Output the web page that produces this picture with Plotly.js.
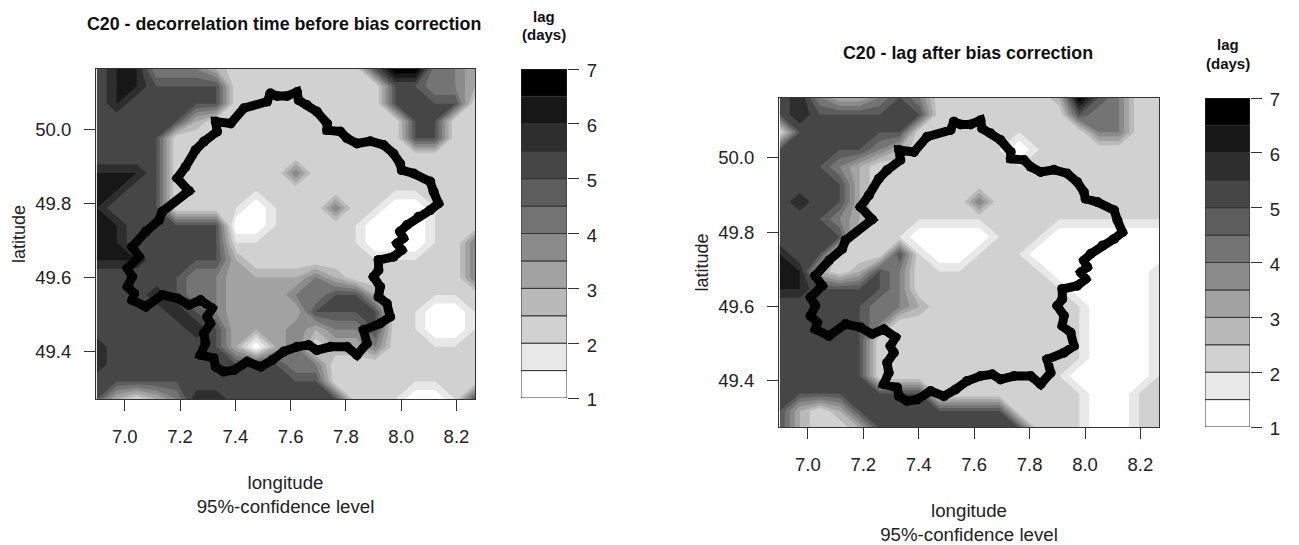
<!DOCTYPE html>
<html><head><meta charset="utf-8">
<script src="https://cdn.plot.ly/plotly-3.0.0.min.js"></script>
<style>html,body{margin:0;padding:0;background:#fff}#c{width:1299px;height:545px}</style>
</head><body><div id="c"></div>
<script>
const lons=[6.899,6.971,7.043,7.115,7.187,7.259,7.331,7.403,7.475,7.547,7.619,7.691,7.763,7.835,7.907,7.979,8.051,8.123,8.195,8.267];
const lats=[50.163,50.116,50.069,50.022,49.976,49.929,49.882,49.835,49.788,49.741,49.694,49.647,49.600,49.553,49.507,49.460,49.413,49.366,49.319,49.272];
const lagBefore=[
[5,6,6,4,4,4,3,2,2,2,2,2,2,2,5,7,7,4,4,3],
[5,6,6,5,5,5,5,2,2,2,2,2,2,2,2,5,5,4,4,3],
[5,6,5,5,5,5,5,2,2,2,2,2,2,2,2,5,5,5,5,2],
[5,5,5,5,5,3,2,2,2,2,2,2,2,2,2,2,5,5,2,2],
[5,5,5,5,2,2,2,2,2,2,2,2,2,2,2,2,5,5,2,2],
[5,5,5,5,2,2,2,2,2,2,2,2,2,2,2,2,2,2,2,2],
[6,6,6,5,2,2,2,2,2,2,4,2,2,2,2,2,2,2,2,2],
[6,6,5,5,2,2,2,2,2,2,2,2,2,2,2,2,2,2,2,2],
[6,5,5,5,2,2,2,2,1,2,2,2,4,2,2,1,1,2,2,2],
[6,6,5,5,5,5,5,1,1,2,2,2,2,2,1,1,1,2,2,2],
[6,6,5,5,5,5,5,2,2,2,2,2,2,2,1,1,1,2,2,4],
[6,6,6,5,5,5,5,3,2,2,2,2,2,2,2,2,2,2,2,4],
[5,5,5,5,5,4,4,3,3,3,3,4,3,2,2,2,2,2,2,4],
[5,5,5,6,5,4,4,3,3,3,4,4,5,5,3,2,2,2,2,2],
[5,5,5,5,6,5,4,3,3,3,3,5,5,5,5,2,2,1,1,2],
[5,5,5,5,5,6,5,3,3,3,4,3,4,4,5,2,2,1,1,2],
[6,5,5,5,5,5,5,3,1,3,4,2,3,3,4,2,2,2,2,2],
[6,5,5,5,5,5,5,5,5,5,4,4,2,2,2,2,2,2,2,2],
[5,5,5,5,5,5,5,5,5,5,5,5,2,2,2,2,2,2,2,2],
[5,3,2,3,4,6,6,5,5,5,5,5,5,2,2,2,1,1,2,5]];
const lagAfter=[
[5,6,4,3,3,4,5,4,2,2,2,2,2,2,3,7,5,4,2,2],
[5,6,5,5,5,5,5,5,2,2,2,2,2,2,2,5,4,4,2,2],
[2,5,5,5,5,5,5,2,2,2,2,2,2,2,2,2,4,4,2,2],
[5,5,5,5,5,4,3,2,2,2,2,2,1,2,2,2,2,2,2,2],
[5,5,5,4,3,2,2,2,2,2,2,2,2,2,2,2,2,2,2,2],
[5,5,5,5,3,2,2,2,2,2,2,2,2,2,2,2,2,2,2,2],
[5,6,5,5,3,2,2,2,2,2,4,2,2,2,2,2,2,2,2,2],
[5,5,5,4,3,2,2,2,2,2,2,2,2,2,2,2,2,2,2,2],
[5,5,5,5,2,2,2,1,1,1,1,2,2,2,1,1,1,1,1,1],
[6,5,5,2,2,2,5,2,1,1,2,2,2,1,1,1,1,1,1,1],
[6,6,3,2,3,5,4,2,2,2,2,2,2,2,1,1,1,1,1,2],
[6,6,5,5,5,5,4,2,2,2,2,2,2,2,2,1,1,1,1,2],
[5,5,5,5,5,4,4,3,2,2,2,2,2,2,2,2,1,1,1,2],
[5,5,5,5,5,4,2,2,2,2,2,2,2,2,2,2,1,1,1,2],
[5,5,5,5,5,2,2,2,2,2,2,2,2,2,2,2,1,1,1,2],
[5,5,5,5,5,2,2,2,2,2,2,2,2,2,2,2,1,1,1,2],
[5,5,5,5,5,2,2,2,2,2,2,2,2,2,2,1,1,1,1,2],
[5,5,5,5,5,5,5,5,2,2,2,2,2,2,2,2,1,1,2,2],
[5,3,2,3,5,5,5,5,5,5,5,5,2,2,2,2,1,1,2,2],
[5,3,2,2,3,5,5,5,5,5,5,5,5,2,2,2,1,1,2,2]];
const basinLon=[7.527,7.551,7.587,7.623,7.629,7.659,7.695,7.732,7.732,7.780,7.804,7.840,7.888,7.936,7.972,7.996,8.002,8.045,8.105,8.117,8.135,8.105,8.063,8.021,7.996,8.008,7.985,8.002,7.972,7.918,7.918,7.900,7.924,7.918,7.948,7.960,7.924,7.864,7.876,7.840,7.804,7.744,7.695,7.665,7.623,7.575,7.533,7.491,7.443,7.395,7.358,7.329,7.322,7.274,7.292,7.286,7.310,7.298,7.316,7.274,7.232,7.190,7.136,7.076,7.027,7.034,7.010,7.027,7.010,7.052,7.027,7.076,7.124,7.136,7.232,7.190,7.220,7.256,7.286,7.334,7.329,7.383,7.431,7.515,7.527];
const basinLat=[50.097,50.090,50.090,50.101,50.079,50.066,50.048,50.016,49.998,49.994,49.976,49.962,49.968,49.958,49.935,49.908,49.890,49.881,49.859,49.832,49.800,49.782,49.764,49.742,49.724,49.706,49.692,49.674,49.656,49.647,49.620,49.602,49.575,49.548,49.530,49.494,49.476,49.458,49.422,49.391,49.413,49.413,49.404,49.418,49.413,49.400,49.377,49.359,49.373,49.350,49.346,49.359,49.382,49.391,49.422,49.449,49.476,49.494,49.517,49.539,49.526,49.544,49.553,49.521,49.539,49.557,49.575,49.602,49.625,49.656,49.683,49.724,49.755,49.778,49.834,49.868,49.899,49.944,49.967,49.994,50.021,50.016,50.057,50.075,50.097];
const lonTicks=[7.0,7.2,7.4,7.6,7.8,8.0,8.2];
const latTicks=[49.4,49.6,49.8,50.0];
const lagTicks=[1,2,3,4,5,6,7];
const bandBase=[1,1.5,2,2.5,3,3.5,4,4.5,5,5.5,6,6.5];
const bandSize=[.5,.5,.5,.5,.5,.5,.5,.5,.5,.5,.5,.5];
const bandGray=['#ffffff','#e8e8e8','#d1d1d1','#b9b9b9','#a2a2a2','#8b8b8b','#747474','#5d5d5d','#464646','#2e2e2e','#171717','#000000'];
const titleLeft='C20 - decorrelation time before bias correction';
const titleRight='C20 - lag after bias correction';

const W=1299,H=545;
const FONT='"Liberation Sans", Arial, sans-serif';
const INK='#222222', AX='#333333';
const fx=p=>p/W, fy=p=>1-p/H;
function contour(z,xa,ya){return {type:'contour',x:lons,y:lats,z:z,xaxis:xa,yaxis:ya,showscale:false,
  autocontour:false,contours:{coloring:'fill',start:0.999,end:6.499,size:0.5,showlines:false},
  line:{width:0,smoothing:0},colorscale:[[0,'#ffffff'],[1/12,'#ffffff'],[1,'#000000']],hoverinfo:'skip'};}
function basin(xa,ya){return {type:'scatter',mode:'lines+markers',x:basinLon,y:basinLat,xaxis:xa,yaxis:ya,
  line:{color:'#000',width:9},marker:{color:'#000',size:10},hoverinfo:'skip',showlegend:false};}
function bar(xa,ya){return {type:'bar',x:bandBase.map(()=>0),y:bandSize,base:bandBase,xaxis:xa,yaxis:ya,width:1,
  marker:{color:bandGray,line:{color:AX,width:1}},hoverinfo:'skip',showlegend:false};}
const lonAxis=(d,a,s)=>({domain:d,anchor:a,range:[6.896,8.267],tickmode:'array',tickvals:lonTicks,tickformat:'.1f',ticks:'outside',ticklen:11,tickcolor:AX,tickwidth:1,
  tickfont:{family:FONT,size:18.5,color:INK},ticklabelstandoff:10,showgrid:false,zeroline:false,showline:true,linecolor:AX,linewidth:1,mirror:true,
  title:{text:'longitude<br>95%-confidence level',font:{family:FONT,size:18.7,color:INK},standoff:s}});
const latAxis=(d,a,r)=>({domain:d,anchor:a,range:r,tickmode:'array',tickvals:latTicks,tickformat:'.1f',ticks:'outside',ticklen:11,tickcolor:AX,tickwidth:1,
  tickfont:{family:FONT,size:18.5,color:INK},ticklabelstandoff:9,showgrid:false,zeroline:false,showline:true,linecolor:AX,linewidth:1,mirror:true,
  title:{text:'latitude',font:{family:FONT,size:18,color:INK},standoff:4}});
const barX=(d,a)=>({domain:d,anchor:a,range:[-.5,.5],showticklabels:false,ticks:'',showgrid:false,zeroline:false,showline:false,fixedrange:true});
const barY=(d,a)=>({domain:d,anchor:a,side:'right',range:[1,7],tickmode:'array',tickvals:lagTicks,ticks:'outside',ticklen:11,tickcolor:AX,tickwidth:1,
  tickfont:{family:FONT,size:18.5,color:INK},ticklabelstandoff:4,ticklabelshift:2,showgrid:false,zeroline:false,showline:false});
const ann=(t,x,y,s)=>({text:t,xref:'paper',yref:'paper',x:fx(x),y:fy(y),xanchor:'center',yanchor:'middle',showarrow:false,font:{family:FONT,size:s,color:'#111'}});

const data=[contour(lagBefore,'x','y'),basin('x','y'),contour(lagAfter,'x2','y2'),basin('x2','y2'),bar('x3','y3'),bar('x4','y4')];
const layout={width:W,height:H,margin:{l:0,r:0,t:0,b:0},paper_bgcolor:'#fff',plot_bgcolor:'#fff',showlegend:false,barmode:'overlay',
  xaxis:lonAxis([fx(96),fx(475)],'y',29),
  yaxis:latAxis([fy(399),fy(69)],'x',[49.272,50.163]),
  xaxis2:lonAxis([fx(779),fx(1159)],'y2',31),
  yaxis2:latAxis([fy(427),fy(98)],'x2',[49.276,50.161]),
  xaxis3:barX([fx(521),fx(567)],'y3'),
  yaxis3:barY([fy(398),fy(69)],'x3'),
  xaxis4:barX([fx(1205),fx(1250)],'y4'),
  yaxis4:barY([fy(427),fy(98)],'x4'),
  annotations:[
   ann('<b>'+titleLeft+'</b>',284,24,17.8),
   ann('<b>'+titleRight+'</b>',968,53,17.8),
   ann('<b>lag</b>',544,17,15),
   ann('<b>(days)</b>',544,34,15),
   ann('<b>lag</b>',1228,45,15),
   ann('<b>(days)</b>',1228,63,15)
  ]};
Plotly.newPlot('c',data,layout,{staticPlot:true,displayModeBar:false});
</script></body></html>
